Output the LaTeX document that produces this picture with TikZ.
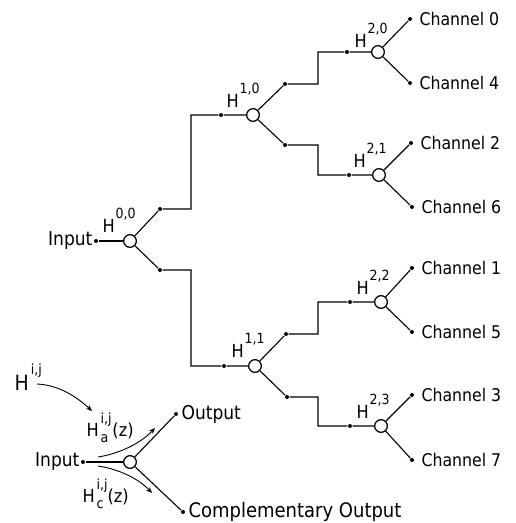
\documentclass[tikz,border=0pt]{standalone}
\usepackage{fontspec}
\setmainfont{DejaVu Sans Condensed}
\usetikzlibrary{arrows.meta}
\newcommand\Hsup[1]{H\hspace{1pt}\raisebox{13.5pt}{\fontsize{14}{14}\selectfont #1}}
\newcommand\Hsupsub[2]{H\hspace{2pt}\rlap{\raisebox{12.5pt}{\fontsize{14}{14}\selectfont #1}}\raisebox{-6pt}{\fontsize{14}{14}\selectfont #2}\hspace{4pt}(z)}
\begin{document}
\begin{tikzpicture}[x=1pt,y=-1pt,line width=1.1pt,
  dot/.style={circle,fill,inner sep=0pt,minimum size=4pt},
  filt/.style={circle,draw,fill=white,inner sep=0pt,minimum size=12.5pt,line width=1.1pt},
  txt/.style={font=\fontsize{17.5}{20}\selectfont,inner sep=0pt},
  ltxt/.style={font=\fontsize{19}{22}\selectfont,inner sep=0pt},
  hlab/.style={font=\fontsize{18}{20}\selectfont,inner sep=0pt,anchor=base west},
  arr/.style={-{Stealth[length=6pt,width=5pt]},line width=0.9pt}]
\useasboundingbox (0,0) rectangle (515,523);

% ---------- tree ----------
\node[dot] (d0) at (96,241) {};
\node[ltxt,anchor=east] (in0) at (93,241) {Input};
\node[filt] (c00) at (130,241) {};
\node[hlab] (h00) at (102,232) {\Hsup{0,0}};
\node[dot] (u00) at (160,209) {};
\node[dot] (l00) at (160,270) {};
\coordinate (k1) at (191,209);
\coordinate (k2) at (191,115);
\coordinate (k3) at (191,270);
\coordinate (k4) at (191,366);
\node[dot] (p10) at (221,115) {};
\node[filt] (c10) at (253,115) {};
\node[hlab] (h10) at (226,107) {\Hsup{1,0}};
\node[dot] (p11) at (224,366) {};
\node[filt] (c11) at (255,366) {};
\node[hlab] (h11) at (231,357) {\Hsup{1,1}};

\node[dot] (u10) at (285,84) {};
\node[dot] (l10) at (285,145) {};
\node[dot] (u11) at (286,334) {};
\node[dot] (l11) at (287,397) {};
\coordinate (m1) at (318,84);  \coordinate (m2) at (318,52);
\coordinate (m3) at (318,145); \coordinate (m4) at (318,175);
\coordinate (m5) at (318,334); \coordinate (m6) at (318,302);
\coordinate (m7) at (318,397); \coordinate (m8) at (318,426);

\node[dot] (p20) at (347,52) {};  \node[filt] (c20) at (378,52) {};
\node[dot] (p21) at (349,175) {}; \node[filt] (c21) at (379,175) {};
\node[dot] (p22) at (350,302) {}; \node[filt] (c22) at (381,302) {};
\node[dot] (p23) at (350,426) {}; \node[filt] (c23) at (381,426) {};
\node[hlab] (h20) at (354,47) {\Hsup{2,0}};
\node[hlab] (h21) at (353,167) {\Hsup{2,1}};
\node[hlab] (h22) at (356,294) {\Hsup{2,2}};
\node[hlab] (h23) at (356,418) {\Hsup{2,3}};

\node[dot] (q0) at (410,19) {};
\node[dot] (q4) at (410,83) {};
\node[dot] (q2) at (411,143) {};
\node[dot] (q6) at (412,207) {};
\node[dot] (q1) at (412,268) {};
\node[dot] (q5) at (412,332) {};
\node[dot] (q3) at (412,395) {};
\node[dot] (q7) at (412,460) {};
\foreach \n/\t in {q0/0,q4/4,q2/2,q6/6,q1/1,q5/5,q3/3,q7/7}
  \node[txt,anchor=west,xshift=9pt] (t\n) at (\n) {Channel \t};

\draw (d0) -- (c00);
\draw (c00) -- (u00) -- (k1) -- (k2) -- (p10) -- (c10);
\draw (c00) -- (l00) -- (k3) -- (k4) -- (p11) -- (c11);
\draw (c10) -- (u10) -- (m1) -- (m2) -- (p20) -- (c20);
\draw (c10) -- (l10) -- (m3) -- (m4) -- (p21) -- (c21);
\draw (c11) -- (u11) -- (m5) -- (m6) -- (p22) -- (c22);
\draw (c11) -- (l11) -- (m7) -- (m8) -- (p23) -- (c23);
\draw (c20) -- (q0); \draw (c20) -- (q4);
\draw (c21) -- (q2); \draw (c21) -- (q6);
\draw (c22) -- (q1); \draw (c22) -- (q5);
\draw (c23) -- (q3); \draw (c23) -- (q7);
\foreach \n in {c00,c10,c11,c20,c21,c22,c23} \node[filt] at (\n) {};

% ---------- legend ----------
\node[anchor=base west,inner sep=0pt,font=\fontsize{21}{24}\selectfont] (hij) at (14,390)
  {H\hspace{2pt}\raisebox{16pt}{\fontsize{14}{14}\selectfont i,j}};
\node[hlab] (ha) at (86,436) {\Hsupsub{i,j}{a}};
\node[hlab] (hc) at (82,502) {\Hsupsub{i,j}{c}};
\node[dot] (ld) at (83,462) {};
\node[ltxt,anchor=east] (lin) at (80,462) {Input};
\node[filt] (lc) at (130,462) {};
\node[dot] (lo) at (176,414) {};
\node[ltxt,anchor=west] (lout) at (181,414) {Output};
\node[dot] (lco) at (183,512) {};
\node[ltxt,anchor=west,font=\fontsize{20}{22}\selectfont] (lcout) at (188,512) {Complementary Output};
\draw (ld) -- (lc);
\draw (lc) -- (lo);
\draw (lc) -- (lco);
\node[filt] at (lc) {};
\coordinate (a0s) at (37,384);  \coordinate (a0e) at (92,411);
\coordinate (a1s) at (98,457);  \coordinate (a1e) at (155,428);
\coordinate (a2s) at (98,466);  \coordinate (a2e) at (152,493);
\draw[arr] (a0s) .. controls (58,385) and (76,396) .. (a0e);
\draw[arr] (a1s) .. controls (118,454) and (140,444) .. (a1e);
\draw[arr] (a2s) .. controls (118,469) and (138,478) .. (a2e);
\end{tikzpicture}
\end{document}
